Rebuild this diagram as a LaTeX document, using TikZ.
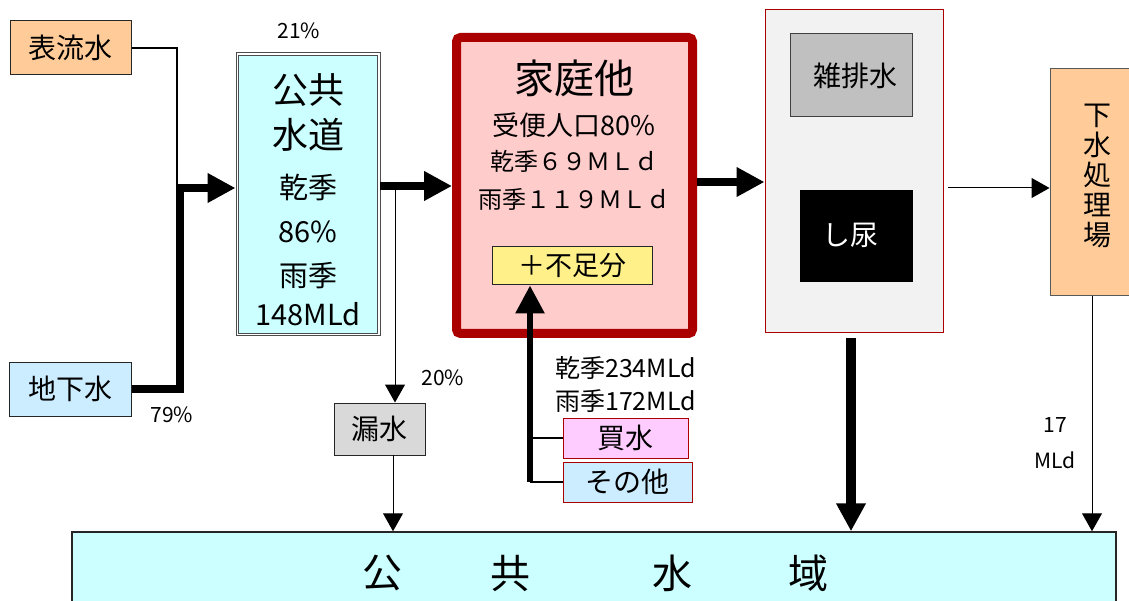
\documentclass[tikz,border=0pt]{standalone}
\usepackage{fontspec}
\setmainfont{Noto Sans CJK JP}
\usetikzlibrary{arrows.meta}
\definecolor{orangebox}{HTML}{FFCC99}
\definecolor{bluebox}{HTML}{CCECFF}
\definecolor{cyanbox}{HTML}{CCFFFF}
\definecolor{pinkbox}{HTML}{FFCCCC}
\definecolor{darkred}{HTML}{AA0000}
\definecolor{yellowbox}{HTML}{FFF08A}
\definecolor{magbox}{HTML}{FFCCFF}
\definecolor{leakgray}{HTML}{D9D9D9}
\definecolor{bggray}{HTML}{F2F2F2}
\definecolor{midgray}{HTML}{C0C0C0}
\newcommand{\fs}[1]{\fontsize{#1}{#1}\selectfont}
\tikzset{
  box/.style={draw=black!85, line width=1pt, inner sep=0pt},
  lbl/.style={inner sep=0pt},
  thk/.style={line width=8pt, -{Triangle[length=28pt,width=28pt]}},
  thn/.style={line width=1pt, -{Triangle[length=18pt,width=20pt]}},
  plain/.style={line width=1.2pt},
}
\begin{document}
\begin{tikzpicture}[x=1pt,y=-1pt]
\useasboundingbox (0,0) rectangle (1129,601);
% left sources
\node[box, fill=orangebox, minimum width=121pt, minimum height=54pt, font=\fs{28}] (hyo) at (70.5,48) {表流水};
\node[box, fill=bluebox, minimum width=122pt, minimum height=54pt, font=\fs{28}] (chika) at (70,389) {地下水};
\node[lbl, font=\fs{21}] (p21) at (299,31) {21\%};
\node[lbl, font=\fs{21}] (p79) at (172,415) {79\%};
% public water supply
\node[draw=black!70, fill=white, line width=1pt, inner sep=0pt, minimum width=144pt, minimum height=283pt] (kokyo) at (308,194.5) {};
\draw[draw=black!70, fill=cyanbox, line width=1pt] ([shift={(3pt,-3pt)}]kokyo.north west) rectangle ([shift={(-3pt,3pt)}]kokyo.south east);
\node[lbl, font=\fs{36}] (k1) at (308,90) {公共};
\node[lbl, font=\fs{36}] (k2) at (308,135) {水道};
\node[lbl, font=\fs{29}] (k3) at (308,187) {乾季};
\node[lbl, font=\fs{29}] (k4) at (308,232) {86\%};
\node[lbl, font=\fs{29}] (k5) at (308,276) {雨季};
\node[lbl, font=\fs{29}] (k6) at (308,314) {148MLd};
% leak
\node[box, fill=leakgray, minimum width=91pt, minimum height=52pt, font=\fs{28}] (rousui) at (379.5,429) {漏水};
\node[lbl, font=\fs{21}] (p20) at (443,378) {20\%};
% household
\node[draw=darkred, fill=pinkbox, line width=9pt, rounded corners=4pt, inner sep=0pt, outer sep=4.5pt, minimum width=236pt, minimum height=296pt] (katei) at (574.5,185.5) {};
\node[lbl, font=\fs{40}] (h1) at (574,78) {家庭他};
\node[lbl, font=\fs{27}] (h2) at (574,125) {受便人口80\%};
\node[lbl, font=\fs{24}] (h3) at (574,161) {乾季６９ＭＬｄ};
\node[lbl, font=\fs{24}] (h4) at (574,199) {雨季１１９ＭＬｄ};
\node[box, fill=yellowbox, minimum width=160pt, minimum height=38pt, font=\fs{27}] (fusoku) at (572,266) {＋不足分};
% purchased water
\node[lbl, font=\fs{25}, anchor=west] (d1) at (555,368) {乾季234MLd};
\node[lbl, font=\fs{25}, anchor=west] (d2) at (555,401) {雨季172MLd};
\node[box, draw=darkred, fill=magbox, minimum width=125pt, minimum height=40pt, font=\fs{28}] (kaimizu) at (625.5,438) {買水};
\node[box, draw=darkred, fill=bluebox, minimum width=129pt, minimum height=40pt, font=\fs{28}] (sonota) at (627.5,482) {その他};
% wastewater container
\node[draw=darkred, fill=bggray, line width=1pt, inner sep=0pt, minimum width=178pt, minimum height=323pt] (cont) at (854,171.5) {};
\node[box, draw=black!75, fill=midgray, minimum width=122pt, minimum height=83pt, font=\fs{28}] (zatsu) at (851,75.5) {\hspace*{8pt}雑排水};
\node[draw=black, fill=black, inner sep=0pt, minimum width=112pt, minimum height=91pt, font=\fs{28}, text=white] (shinyo) at (856,235.5) {し尿\hspace*{12pt}};
% sewage plant
\node[draw=black!65, fill=orangebox, line width=1pt, inner sep=0pt, minimum width=90pt, minimum height=227pt] (gesui) at (1095,182.5) {};
\node[lbl, font=\fs{28}, align=center] (gtext) at (1097,176) {下\\[2pt]水\\[2pt]処\\[2pt]理\\[2pt]場};
\node[lbl, font=\fs{21}] (m1) at (1055,425) {17};
\node[lbl, font=\fs{21}] (m2) at (1055,460) {MLd};
% public water body
\node[draw=black!85, fill=cyanbox, line width=1.5pt, inner sep=0pt, minimum width=1044pt, minimum height=90pt] (suiiki) at (594,577) {};
\node[lbl, font=\fs{40}] (s1) at (382,573) {公};
\node[lbl, font=\fs{40}] (s2) at (510,573) {共};
\node[lbl, font=\fs{40}] (s3) at (672,573) {水};
\node[lbl, font=\fs{40}] (s4) at (808,573) {域};
% connectors
\coordinate (jB) at (177,186);
\coordinate (jA) at (180,188);
\draw[plain] (hyo.east) -| (jB);
\draw[thk] (chika.east) -| (jA) -- (kokyo.west |- jA);
\coordinate (kA) at (380,186);
\draw[thk] (kA) -- (katei.west |- kA);
\coordinate (lA) at (395,188);
\draw[thn] (lA) -- (lA |- rousui.north);
\coordinate (lB) at (393,455);
\draw[thn] (lB) -- (lB |- suiiki.north);
\coordinate (kB) at (697,182);
\draw[thk] (kB) -- (cont.west |- kB);
\coordinate (cA) at (948,188);
\draw[thn] (cA) -- (gesui.west |- cA);
\coordinate (gA) at (1092,296);
\draw[thn] (gA) -- (gA |- suiiki.north);
\coordinate (cB) at (851,338);
\draw[line width=10pt, -{Triangle[length=28pt,width=28pt]}] (cB) -- (cB |- suiiki.north);
\coordinate (uA) at (530,482);
\draw[line width=6pt, -{Triangle[length=28pt,width=28pt]}] (uA) -- (uA |- fusoku.south);
\draw[plain] (uA |- kaimizu.west) -- (kaimizu.west);
\draw[plain] (uA) -- (sonota.west);
\end{tikzpicture}
\end{document}
